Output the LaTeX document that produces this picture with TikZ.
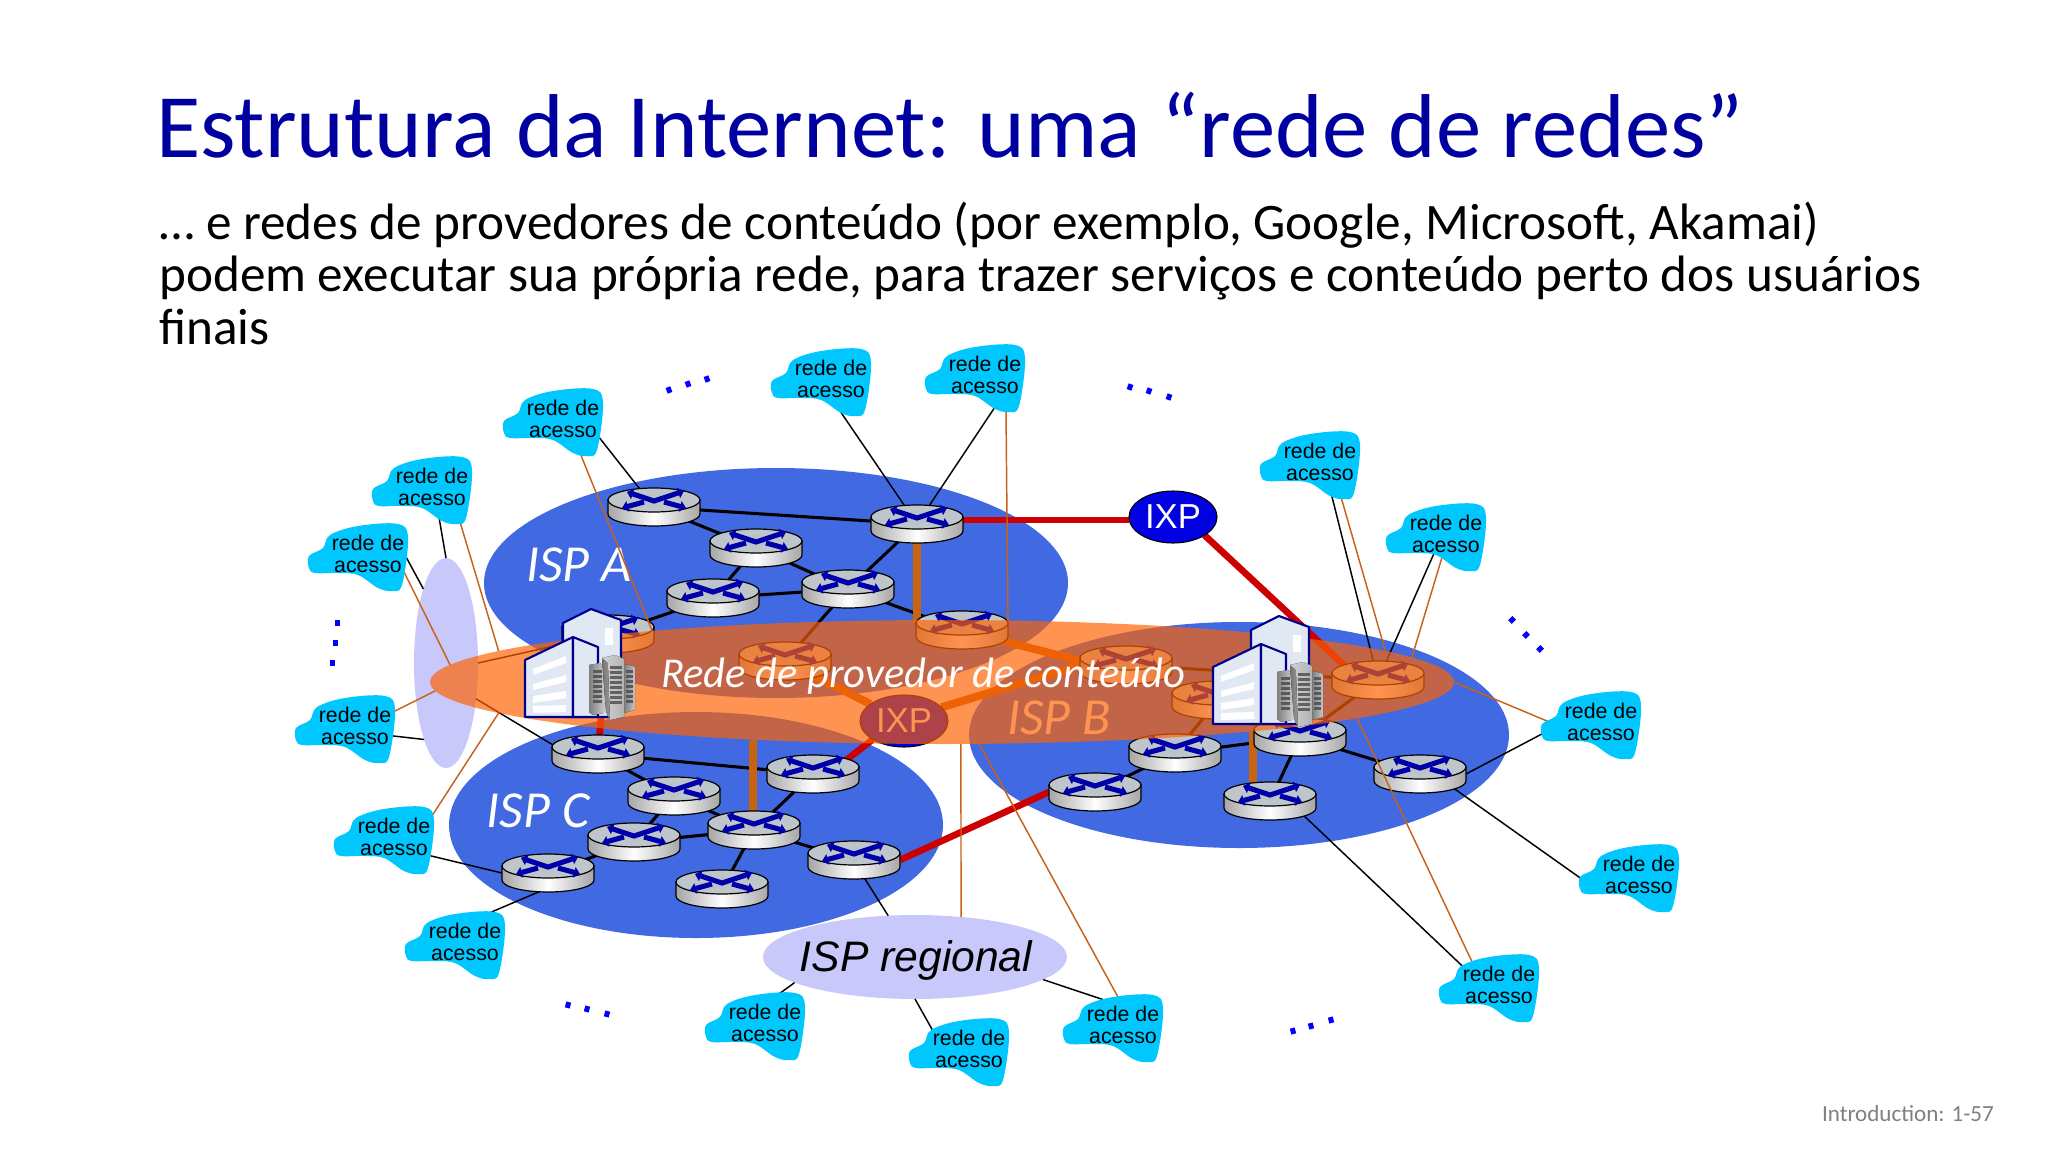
\documentclass[tikz,border=0pt]{standalone}
\usepackage{fontspec}
\setmainfont{Carlito}
\newfontfamily\arialfont{Liberation Sans}
\usetikzlibrary{shapes.geometric,arrows.meta}

\definecolor{titleblue}{RGB}{0,0,160}
\definecolor{ispblue}{RGB}{65,105,225}
\definecolor{regionalblue}{RGB}{200,200,250}
\definecolor{netcyan}{RGB}{0,200,255}
\definecolor{lensorange}{RGB}{255,98,0}
\definecolor{peerred}{RGB}{204,0,0}
\definecolor{cdnorange}{RGB}{200,100,15}
\definecolor{thinorange}{RGB}{200,97,26}
\definecolor{routertop}{RGB}{190,198,204}
\definecolor{routerx}{RGB}{0,0,170}
\definecolor{wallblue}{RGB}{224,232,244}
\definecolor{walledge}{RGB}{0,0,140}

\pgfdeclarelayer{isps}
\pgfdeclarelayer{links}
\pgfdeclarelayer{routers}
\pgfdeclarelayer{cdnlinks}
\pgfdeclarelayer{clouds}
\pgfdeclarelayer{lens}
\pgfsetlayers{isps,links,routers,cdnlinks,clouds,lens,main}

\tikzset{
	ispshape/.style={ellipse,fill=ispblue,inner sep=0,outer sep=0},
	regionalshape/.style={ellipse,fill=regionalblue,inner sep=0,outer sep=0},
	isplabel/.style={font=\fontsize{39}{42}\selectfont\itshape,text=white,inner sep=0},
	routernode/.style={ellipse,minimum width=69pt,minimum height=28.5pt,inner sep=0,outer sep=0},
	ixpnode/.style={ellipse,draw=black,line width=0.8pt,fill=blue!88!black,minimum width=66pt,minimum height=39pt,inner sep=0,outer sep=0,text=white,font=\arialfont\fontsize{26}{28}\selectfont},
	netlabel/.style={align=center,inner sep=0,font=\arialfont\fontsize{16}{16}\selectfont},
	routerlink/.style={draw=black,line width=2.3pt},
	thinlink/.style={draw=black,line width=1.1pt},
	cdnlink/.style={draw=thinorange,line width=1.1pt},
	peerlink/.style={draw=peerred,line width=5pt},
	privlink/.style={draw=cdnorange,line width=6pt},
	routerarm/.style={draw=routerx,line width=3.8pt},
	wall/.style={fill=wallblue,draw=walledge,line width=1.6pt,line join=round},
	rack/.style={left color=black!50,right color=black!22},
	moredots/.style={fill=blue}
}

% router drawn around a named node
\newcommand{\router}[3]{
	\node[routernode] (#1) at (#2,#3) {};
	\begin{scope}[shift={(#2,#3)}]
		\draw[line width=0.9pt,left color=black!35,right color=black!35,middle color=white] (-46,-7) -- (-46,7) arc [start angle=180,end angle=0,x radius=46,y radius=12] -- (46,-7) -- cycle;
		\draw[line width=0.9pt,fill=routertop] (0,-7) ellipse [x radius=46,y radius=12];
		\fill[black!10!routertop!80!white] (-14,-7) -- (0,-14) -- (14,-7) -- (0,2) -- cycle;
		\draw[routerarm,{Triangle[length=4.5pt,width=8pt]}-{Triangle[length=4.5pt,width=8pt]}] (-27,-15) -- (0,-6) -- (30,-16);
		\draw[routerarm,-{Triangle[length=4.5pt,width=8pt]}] (-10,-5) -- (-32,1);
		\draw[routerarm,-{Triangle[length=4.5pt,width=8pt]}] (10,-5) -- (32,1);
	\end{scope}
}

% access network blob with its label
\newcommand{\accessnet}[3]{
	\fill[netcyan,shift={(#2,#3)}] plot [smooth cycle,tension=0.6] coordinates {(30,-30) (40,-16) (34,31) (24,37) (10,34) (-10,21) (-30,19) (-53,19) (-59,14) (-59,2) (-45,-6) (-38,-19) (-10,-28)};
	\node[netlabel] (#1) at (#2,#3) {rede de\\acesso};
}

% office tower with server racks
\newcommand{\building}[2]{
	\begin{scope}[shift={(#1,#2)}]
		\draw[wall] (63,117) -- (63,23) -- (91,9) -- (121,20) -- (121,117) -- cycle;
		\fill[white] (105,28) rectangle (113,45);
		\draw[wall] (25,117) -- (25,60) -- (73,37) -- (73,117) -- cycle;
		\draw[wall] (73,117) -- (73,37) -- (98,47) -- (98,117) -- cycle;
		\fill[white] (33,69) -- (66,56) -- (66,63) -- (33,75) -- cycle;
		\fill[white] (33,84) -- (66,75) -- (66,82) -- (33,90) -- cycle;
		\fill[white] (33,96) -- (66,91) -- (66,98) -- (33,103) -- cycle;
		\fill[white] (33,106) -- (66,105) -- (66,112) -- (33,113) -- cycle;
		\fill[rack] (89,65) -- (100,63) -- (104,66) -- (104,113) -- (93,115) -- (89,112) -- cycle;
		\fill[rack] (124,64) -- (133,66) -- (135,68) -- (135,110) -- (124,113) -- cycle;
		\foreach \ya in {70,75,...,100} {
			\fill[black!65] (93,\ya) rectangle (102,\ya+3);
			\fill[black!65] (126,\ya) rectangle (133,\ya+3);
		}
		\fill[left color=black!55,right color=black!40] (102,58) -- (108,63) -- (110,120) -- (106,112) -- cycle;
		\fill[left color=black!18,right color=black!30] (102,58) -- (115,55) -- (124,59) -- (124,117) -- (110,120) -- (108,63) -- cycle;
		\foreach \yb in {66,71,...,101} {
			\fill[black!62] (110,\yb) rectangle (122,\yb+3);
		}
	\end{scope}
}

\begin{document}
\begin{tikzpicture}[x=0.75pt,y=0.75pt,yscale=-1]
	\useasboundingbox (0,0) rectangle (2048,1152);
	
	% Text Node
	\node[anchor=base west,inner sep=0,text=titleblue,font=\fontsize{68}{76}\selectfont] (slidetitle) at (156,157) {Estrutura da Internet: uma “rede de redes”};
	% Text Node
	\node[anchor=north west,inner sep=0,align=left,font=\fontsize{38.4}{39.2}\selectfont] (slidebody) at (159,202) {… e redes de provedores de conteúdo (por exemplo, Google, Microsoft, Akamai)\\podem executar sua própria rede, para trazer serviços e conteúdo perto dos usuários\\finais};
	% Text Node
	\node[anchor=east,inner sep=0,text=black!50,font=\fontsize{17.3}{20}\selectfont] (slidefooter) at (1994,1114) {Introduction: 1-57};
	
	\begin{pgfonlayer}{isps}
		% Shape: Ellipse
		\node[ispshape,minimum width=438pt,minimum height=172.5pt] (ispA) at (776,583) {};
		\node[ispshape,minimum width=405pt,minimum height=169.5pt] (ispB) at (1239,735) {};
		\node[ispshape,minimum width=370.5pt,minimum height=169.5pt] (ispC) at (696,825) {};
		\node[regionalshape,minimum width=48pt,minimum height=157.5pt] (regionalleft) at (446,663) {};
		\node[regionalshape,minimum width=228pt,minimum height=63pt] (regional) at (915,957) {};
		% Text Node
		\node[inner sep=0,font=\arialfont\fontsize{32}{34}\selectfont\itshape] (labelregional) at (916,960) {ISP regional};
		\node[isplabel] (labelA) at (579,565) {ISP A};
		\node[isplabel] (labelB) at (1059,718) {ISP B};
		\node[isplabel] (labelC) at (538,811) {ISP C};
	\end{pgfonlayer}
	
	\begin{pgfonlayer}{routers}
		\router{a1}{654}{507}
		\router{a2}{756}{548}
		\router{a3}{713}{598}
		\router{a4}{848}{589}
		\router{a5}{917}{524}
		\router{a6}{962}{630}
		\router{a7}{608}{634}
		\router{a8}{785}{661}
		\router{b1}{1126}{665}
		\router{b2}{1218}{700}
		\router{b3}{1378}{680}
		\router{b4}{1175}{753}
		\router{b5}{1300}{737}
		\router{b6}{1095}{792}
		\router{b7}{1270}{801}
		\router{b8}{1420}{774}
		\router{c1}{598}{754}
		\router{c2}{674}{796}
		\router{c3}{634}{842}
		\router{c4}{548}{873}
		\router{c5}{754}{830}
		\router{c6}{813}{774}
		\router{c7}{854}{860}
		\router{c8}{722}{889}
		% Text Node
		\node[ixpnode] (ixpA) at (1173,517) {IXP};
		\node[ixpnode] (ixpB) at (904,721) {IXP};
	\end{pgfonlayer}
	
	\begin{pgfonlayer}{clouds}
		\accessnet{net1}{563}{419}
		\accessnet{net2}{432}{487}
		\accessnet{net3}{368}{554}
		\accessnet{net4}{355}{726}
		\accessnet{net5}{394}{837}
		\accessnet{net6}{465}{942}
		\accessnet{net7}{765}{1023}
		\accessnet{net8}{969}{1049}
		\accessnet{net9}{1123}{1025}
		\accessnet{net10}{1499}{985}
		\accessnet{net11}{1639}{875}
		\accessnet{net12}{1601}{722}
		\accessnet{net13}{1446}{534}
		\accessnet{net14}{1320}{462}
		\accessnet{net15}{985}{375}
		\accessnet{net16}{831}{379}
	\end{pgfonlayer}
	
	\begin{pgfonlayer}{lens}
		% Shape: Ellipse
		\node[ellipse,fill=lensorange,fill opacity=0.68,inner sep=0,outer sep=0,minimum width=768pt,minimum height=93pt] (cdnlens) at (942,682) {};
	\end{pgfonlayer}
	
	\begin{pgfonlayer}{links}
		% Straight Lines
		\foreach \from/\to in {a1/a5,a1/a2,a2/a3,a2/a4,a3/a4,a3/a7,a4/a5,a4/a6,a4/a8,c1/c6,c1/c2,c2/c3,c2/c5,c3/c5,c3/c4,c5/c6,c5/c8,c5/c7,b1/b3,b2/b4,b3/b5,b4/b5,b4/b6,b5/b7,b5/b8}
			\draw[routerlink] (\from) -- (\to);
		% Straight Lines
		\draw[thinlink] (net1.south east) -- (a1);
		\draw[thinlink] (net16.south) -- (a5);
		\draw[thinlink] (net15.-45) -- (a5);
		\draw[thinlink] (net14.-67) -- (b3);
		\draw[thinlink] (net13.-122) -- (b3);
		\draw[thinlink] (net12.west) -- (b8.east);
		\draw[thinlink] (net11.south west) -- (b8.south east);
		\draw[thinlink] (net10.north west) -- (b7.south east);
		\draw[thinlink] (net9.north) -- (regional.-10);
		\draw[thinlink] (net8.north west) -- (regional.south);
		\draw[thinlink] (net7.north) -- (regional.192);
		\draw[thinlink] (c7.-60) -- (regional.123);
		\draw[thinlink] (net6.north) -- (c4.-115);
		\draw[thinlink] (net5.south east) -- (c4.west);
		\draw[thinlink] (net4.-15) -- (regionalleft.-106);
		\draw[thinlink] (net3.east) -- (regionalleft.107);
		\draw[thinlink] (net2.-75) -- (regionalleft.north);
		\draw[thinlink] (regionalleft.-50) -- (c1.170);
		\draw[thinlink] (regionalleft.east) -- (a7);
		% Straight Lines
		\draw[peerlink] (a5.5) -- (a5.5 -| ixpA.west);
		\draw[peerlink] (ixpA.-30) -- (b3.north west);
		\draw[peerlink] (c1) -- (a7);
		\draw[peerlink] (ixpB.south west) -- (c6.north east);
		\draw[peerlink] (c7.east) -- (b6.west);
		% Straight Lines
		\draw[privlink] (a5) -- (a5 |- a6.170);
		\draw[privlink] (a6.-15) -- (b1.175);
		\draw[privlink] (ixpB.20) -- (b1.west);
		\draw[privlink] (a8) -- (ixpB);
		\draw[privlink] (cdnlens.-163.4) -- (cdnlens.-163.4 |- c5);
		\draw[privlink] (cdnlens.-9.4) -- (cdnlens.-9.4 |- b7);
	\end{pgfonlayer}
	
	\begin{pgfonlayer}{cdnlinks}
		% Straight Lines
		\draw[cdnlink] (net1.-60) -- (cdnlens.170.4);
		\draw[cdnlink] (net2.-39) -- (cdnlens.176.3);
		\draw[cdnlink] (net3.south east) -- (cdnlens.178.3);
		\draw[cdnlink] (net4.20) -- (cdnlens.181);
		\draw[cdnlink] (net5.north east) -- (cdnlens.184.2);
		\draw[cdnlink] (net15.-42) -- (cdnlens.43);
		\draw[cdnlink] (cdnlens.-73) -- (regional.41);
		\draw[cdnlink] (net14.-49) -- (cdnlens.4.5);
		\draw[cdnlink] (net13.-98) -- (cdnlens.3.1);
		\draw[cdnlink] (net12.-170) -- (cdnlens.east);
		\draw[cdnlink] (net10.143) -- (cdnlens.-5.2);
		\draw[cdnlink] (net9.north) -- (cdnlens.-59);
	\end{pgfonlayer}
	
	% Shape: Building
	\building{500}{600}
	\building{1188}{607}
	
	% Text Node
	\node[inner sep=0,text=white,font=\fontsize{31.9}{34}\selectfont\itshape] (lenslabel) at (923,676) {Rede de provedor de conteúdo};
	
	% Shape: Rectangle
	\foreach \xa/\ya/\ra in {669/390/-20,688/384/-20,707/379/-20,1130/387/20,1149/391/20,1169/397/20,1512/620/45,1526/635/45,1540/649/45,337/623/0,335/643/0,332/663/0,568/1005/15,587/1009/15,607/1014/15,1293/1031/-15,1311/1026/-15,1331/1020/-15}
		\fill[moredots,rotate around={\ra:(\xa,\ya)}] (\xa-2.5,\ya-3) rectangle (\xa+2.5,\ya+3);
\end{tikzpicture}
\end{document}
